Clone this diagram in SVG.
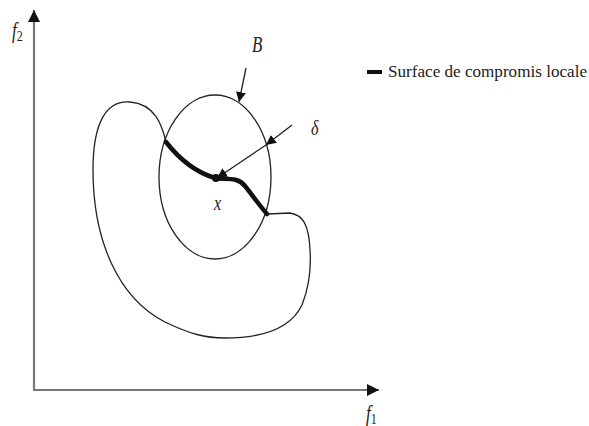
<svg xmlns="http://www.w3.org/2000/svg" width="589" height="426" viewBox="0 0 589 426">
<style>
.ax{stroke:#777;stroke-width:2.2;fill:none}
.ln{stroke:#222;stroke-width:1.3;fill:none}
.lbl{font-style:italic;fill:#222}
.leg{fill:#222;font-size:16px}
</style>
<defs>
<marker id="ah" viewBox="0 0 10 10" refX="10" refY="5" markerWidth="10" markerHeight="10" markerUnits="userSpaceOnUse" orient="auto"><path d="M0,0 L10,5 L0,10 z" fill="#111"/></marker>
<marker id="big" viewBox="0 0 10 10" refX="10" refY="5" markerWidth="12" markerHeight="12" markerUnits="userSpaceOnUse" orient="auto"><path d="M0,0 L10,5 L0,10 z" fill="#111"/></marker>
</defs>
<g id="axes">
<line class="ax" x1="34" y1="390" x2="34" y2="10" marker-end="url(#big)"/>
<line class="ax" x1="33" y1="390" x2="379" y2="390" marker-end="url(#big)"/>
<text class="lbl" font-family="'Liberation Serif', 'DejaVu Serif', serif" transform="translate(12,38) scale(1,1.3)" font-size="17">f<tspan font-size="12" dy="2" font-style="normal">2</tspan></text>
<text class="lbl" font-family="'Liberation Serif', 'DejaVu Serif', serif" transform="translate(366,421) scale(1,1.3)" font-size="17">f<tspan font-size="12" dy="2" font-style="normal">1</tspan></text>
</g>
<g id="region">
<path class="ln" d="M166,142 C162,125 155,104 130,102 C105,100 93,125 93,170 C93,240 118,298 165,322 C190,334 205,338 225,338 C260,338 290,330 302,305 C310,285 311,265 310,250 C309,225 303,215 290,213 L267,214"/>
</g>
<g id="ball">
<ellipse class="ln" cx="215" cy="177" rx="56" ry="82"/>
<text class="lbl" font-family="'Liberation Serif', 'DejaVu Serif', serif" transform="translate(252,52) scale(1,1.35)" font-size="17">B</text>
</g>
<g id="local-surface">
<path d="M166,142 C180,160 195,172 215,178 C225,180 237,176 245,186 C253,196 260,206 267,214" fill="none" stroke="#111" stroke-width="4.5" stroke-linecap="round"/>
<circle cx="216" cy="178" r="4" fill="#111"/>
<text class="lbl" font-family="'Liberation Serif', 'DejaVu Serif', serif" transform="translate(214,210) scale(1,1.3)" font-size="16">x</text>
</g>
<g id="connectors">
<line class="ln" x1="246" y1="68" x2="239" y2="102" marker-end="url(#ah)"/>
<line class="ln" x1="292" y1="125" x2="266" y2="145" marker-end="url(#ah)"/>
<line class="ln" x1="266" y1="145" x2="217" y2="178" marker-end="url(#ah)"/>
<text class="lbl" font-family="'Liberation Serif', 'DejaVu Serif', serif" transform="translate(311,135) scale(1,1.3)" font-size="16">δ</text>
</g>
<g id="legend">
<line x1="367" y1="72" x2="382" y2="72" stroke="#111" stroke-width="4"/>
<text class="leg" font-family="'Liberation Serif', 'DejaVu Serif', serif" x="388" y="77" textLength="199" lengthAdjust="spacingAndGlyphs">Surface de compromis locale</text>
</g>
</svg>
